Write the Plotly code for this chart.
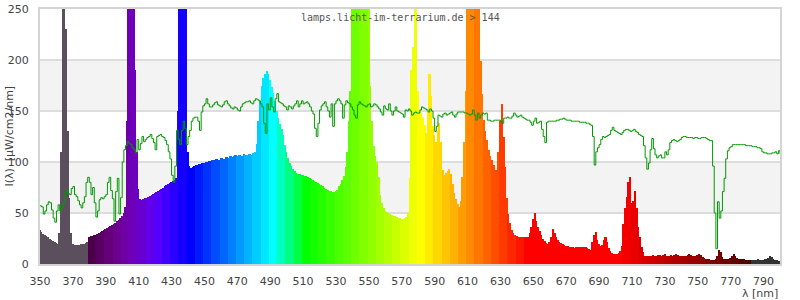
import plotly.graph_objects as go

# ---- data ----
bar_start_nm = 350  # bars every 1 nm from 350 to 800
intensity = [
    33, 31, 29, 28, 27, 26, 25, 24, 23, 22,
    21, 20, 30, 110, 320, 400, 230, 130, 65, 30,
    20, 19, 19, 19, 19, 20, 20, 20, 21, 22,
    26, 27, 27, 28, 28, 29, 30, 31, 32, 33,
    34, 35, 36, 37, 38, 39, 40, 42, 43, 45,
    47, 50, 56, 140, 280, 400, 400, 270, 190, 110,
    74, 64, 63, 64, 65, 65, 66, 67, 68, 69,
    70, 71, 72, 73, 74, 75, 76, 77, 78, 79,
    80, 81, 82, 84, 150, 300, 450, 400, 300, 260,
    110, 96, 94, 95, 96, 97, 97, 98, 98, 99,
    99, 100, 100, 101, 101, 102, 102, 103, 103, 102,
    104, 104, 103, 105, 105, 104, 106, 105, 106, 107,
    106, 107, 107, 106, 108, 107, 107, 108, 108, 107,
    109, 110, 118, 140, 160, 175, 182, 186, 189, 186,
    180, 174, 168, 160, 150, 143, 137, 132, 126, 117,
    110, 104, 99, 96, 93, 91, 89, 88, 88, 87,
    87, 86, 86, 85, 84, 83, 82, 81, 80, 79,
    78, 77, 76, 75, 74, 73, 72, 72, 71, 71,
    72, 73, 76, 78, 82, 86, 95, 110, 140, 170,
    260, 320, 400, 450, 500, 550, 600, 500, 400, 320,
    260, 175, 140, 116, 106, 100, 85, 68, 60, 55,
    52, 51, 50, 49, 48, 47, 47, 46, 45, 45,
    44, 44, 45, 46, 50, 84, 190, 213, 300, 280,
    170, 152, 148, 144, 136, 128, 150, 186, 165, 135,
    126, 120, 130, 138, 120, 92, 87, 89, 91, 93,
    88, 78, 70, 64, 59, 56, 62, 85, 120, 170,
    300, 400, 450, 450, 400, 350, 300, 260, 199, 167,
    141, 130, 122, 112, 106, 102, 97, 92, 92, 110,
    140, 157, 125, 95, 65, 49, 40, 33, 30, 28,
    27, 26, 26, 26, 26, 26, 26, 26, 30, 36,
    44, 50, 42, 36, 32, 28, 25, 23, 21, 20,
    22, 26, 34, 30, 26, 24, 22, 21, 20, 19,
    18, 18, 17, 17, 17, 16, 17, 17, 17, 17,
    17, 17, 17, 16, 15, 14, 22, 28, 31, 24,
    20, 18, 19, 24, 26, 22, 16, 13, 11, 10,
    10, 10, 11, 13, 18, 39, 55, 66, 80, 85,
    60, 62, 72, 55, 36, 26, 17, 12, 8, 8,
    8, 8, 8, 9, 8, 8, 9, 9, 8, 9,
    10, 8, 8, 8, 9, 8, 9, 10, 9, 8,
    8, 8, 8, 8, 9, 10, 9, 8, 8, 8,
    9, 10, 9, 7, 6, 5, 5, 5, 4, 4,
    4, 5, 8, 14, 12, 7, 5, 5, 5, 5,
    6, 8, 10, 8, 6, 5, 5, 5, 5, 4,
    4, 4, 4, 4, 4, 4, 4, 5, 4, 4,
    4, 5, 5, 6, 8, 7, 5, 4, 4, 3,
    3,
]
wavelengths = [bar_start_nm + i for i in range(len(intensity))]

line_start_nm = 350  # reference curve every 1 nm
reference = [
    57, 56, 49, 52, 58, 61, 60, 53, 45, 41,
    52, 58, 52, 55, 60, 70, 73, 69, 68, 74,
    76, 68, 66, 62, 58, 55, 60, 66, 80, 85,
    80, 68, 75, 60, 46, 52, 63, 65, 64, 66,
    68, 80, 85, 72, 64, 42, 71, 84, 49, 65,
    100, 112, 116, 120, 118, 117, 114, 112, 109, 122,
    112, 118, 125, 120, 122, 124, 125, 127, 123, 119,
    112, 125, 126, 127, 125, 124, 121, 117, 110, 103,
    87, 80, 96, 131, 122, 117, 131, 140, 133, 117,
    125, 131, 140, 143, 144, 144, 140, 131, 149, 155,
    157, 162, 157, 154, 154, 156, 158, 159, 156, 155,
    154, 156, 159, 160, 157, 155, 153, 152, 154, 153,
    151, 150, 154, 157, 158, 159, 159, 160, 158, 157,
    160, 162, 161, 160, 157, 154, 138, 128, 157, 151,
    163, 154, 149, 162, 167, 159, 158, 157, 155, 154,
    151, 155, 154, 152, 155, 157, 160, 154, 157, 160,
    157, 158, 159, 157, 154, 150, 147, 133, 125, 138,
    151, 155, 157, 159, 154, 150, 144, 157, 135, 157,
    160, 162, 160, 157, 143, 156, 160, 158, 157, 154,
    151, 146, 143, 156, 159, 157, 156, 155, 154, 156,
    157, 154, 155, 157, 156, 154, 152, 149, 146, 155,
    152, 151, 157, 150, 146, 150, 154, 150, 149, 148,
    147, 144, 151, 150, 152, 150, 146, 148, 149, 148,
    148, 151, 154, 153, 152, 151, 149, 152, 150, 143,
    130, 135, 146, 145, 144, 147, 148, 146, 147, 148,
    149, 146, 144, 147, 149, 149, 149, 149, 148, 148,
    147, 146, 147, 151, 146, 141, 148, 143, 146, 148,
    147, 148, 141, 141, 140, 140, 141, 141, 141, 141,
    140, 138, 143, 143, 144, 143, 143, 145, 148, 146,
    144, 145, 146, 144, 143, 142, 141, 141, 139, 136,
    140, 143, 138, 139, 140, 132, 125, 119, 139, 140,
    140, 140, 140, 140, 141, 141, 142, 142, 143, 142,
    141, 141, 141, 140, 140, 140, 140, 140, 139, 139,
    139, 139, 138, 138, 137, 136, 125, 97, 110, 114,
    117, 122, 125, 124, 125, 126, 127, 131, 134, 131,
    130, 129, 128, 127, 129, 131, 132, 132, 131, 130,
    131, 132, 130, 129, 127, 126, 125, 116, 104, 93,
    99, 112, 123, 113, 107, 104, 106, 107, 104, 104,
    110, 107, 112, 119, 121, 122, 121, 120, 121, 122,
    124, 125, 125, 124, 124, 124, 124, 123, 124, 124,
    123, 123, 124, 124, 124, 123, 122, 121, 121, 96,
    50, 15, 61, 45, 52, 71, 84, 103, 111, 114,
    115, 117, 117, 117, 117, 117, 117, 117, 117, 116,
    116, 116, 116, 115, 115, 115, 114, 114, 113, 110,
    109, 109, 108, 108, 108, 109, 109, 110, 108, 111,
    108,
]
ref_wavelengths = [line_start_nm + i for i in range(len(reference))]

x_ticks = list(range(350, 800, 20))
y_ticks = [0, 50, 100, 150, 200, 250]
title_text = "lamps.licht-im-terrarium.de > 144"
y_title = "I(λ)  [µW/cm2/nm]"
x_title = "λ [nm]"


# ---- colours ----
def wl_color(w):
    if w < 380:
        return "#5b4f5d"
    if w > 782:
        return "#333333"
    w = (w // 5) * 5
    if w < 440:
        r, g, b = -(w - 440) / 60, 0.0, 1.0
    elif w < 490:
        r, g, b = 0.0, (w - 440) / 50, 1.0
    elif w < 510:
        r, g, b = 0.0, 1.0, -(w - 510) / 20
    elif w < 580:
        r, g, b = (w - 510) / 70, 1.0, 0.0
    elif w < 645:
        r, g, b = 1.0, -(w - 645) / 65, 0.0
    else:
        r, g, b = 1.0, 0.0, 0.0
    if w < 420:
        f = 0.3 + 0.7 * (w - 380) / 40
    elif w <= 700:
        f = 1.0
    else:
        f = 0.3 + 0.7 * (780 - w) / 80
    return "rgb(%d,%d,%d)" % (round(255 * r * f), round(255 * g * f), round(255 * b * f))


bar_colors = [wl_color(w) for w in wavelengths]

fig = go.Figure()
fig.add_trace(go.Bar(
    x=wavelengths, y=intensity, width=1.0,
    marker=dict(color=bar_colors, line=dict(width=0)),
    hoverinfo="skip",
))
fig.add_trace(go.Scatter(
    x=ref_wavelengths, y=reference, mode="lines",
    line=dict(color="#009900", width=1, shape="hv"),
    hoverinfo="skip",
))

# alternating background bands
for y0, y1 in [(50, 100), (150, 200)]:
    fig.add_shape(type="rect", xref="paper", yref="y", x0=0, x1=1, y0=y0, y1=y1,
                  fillcolor="#f3f3f3", line=dict(width=0), layer="below")

W, H = 800, 300
ml, mr, mt, mb = 40, 20, 3, 36
pw, ph = W - ml - mr, H - mt - mb

fig.add_annotation(text=title_text, xref="paper", yref="paper",
                   x=(400 - ml) / pw, y=(H - mb - 11.5) / ph, xanchor="center", yanchor="middle",
                   showarrow=False, font=dict(family="DejaVu Sans Mono", size=10, color="#555555"))
fig.add_annotation(text=y_title, xref="paper", yref="paper", textangle=-90,
                   x=(9 - ml) / pw, y=0.5, xanchor="center", yanchor="middle",
                   showarrow=False, font=dict(family="DejaVu Sans", size=11, color="#444444"))
fig.add_annotation(text=x_title, xref="paper", yref="paper",
                   x=1, y=-(294 - (H - mb)) / ph, xanchor="right", yanchor="middle",
                   showarrow=False, font=dict(family="DejaVu Sans", size=11, color="#444444"))

fig.update_layout(
    width=W, height=H,
    margin=dict(l=ml, r=mr, t=mt, b=mb, pad=0),
    paper_bgcolor="white", plot_bgcolor="white",
    showlegend=False, bargap=0,
    font=dict(family="DejaVu Sans", size=11, color="#444444"),
)
fig.update_xaxes(range=[350, 800], tickvals=x_ticks, showgrid=False, zeroline=False,
                 showline=True, linecolor="#d4d4d4", linewidth=2, mirror=True,
                 ticks="", ticklabelstandoff=6)
fig.update_yaxes(range=[0, 250], tickvals=y_ticks, showgrid=True, gridcolor="#dddddd",
                 gridwidth=1.5, zeroline=False, showline=True, linecolor="#d4d4d4",
                 linewidth=2, mirror=True, ticks="", ticklabelstandoff=7,
                 ticklabeloverflow="allow")

fig.write_html("out.html")
